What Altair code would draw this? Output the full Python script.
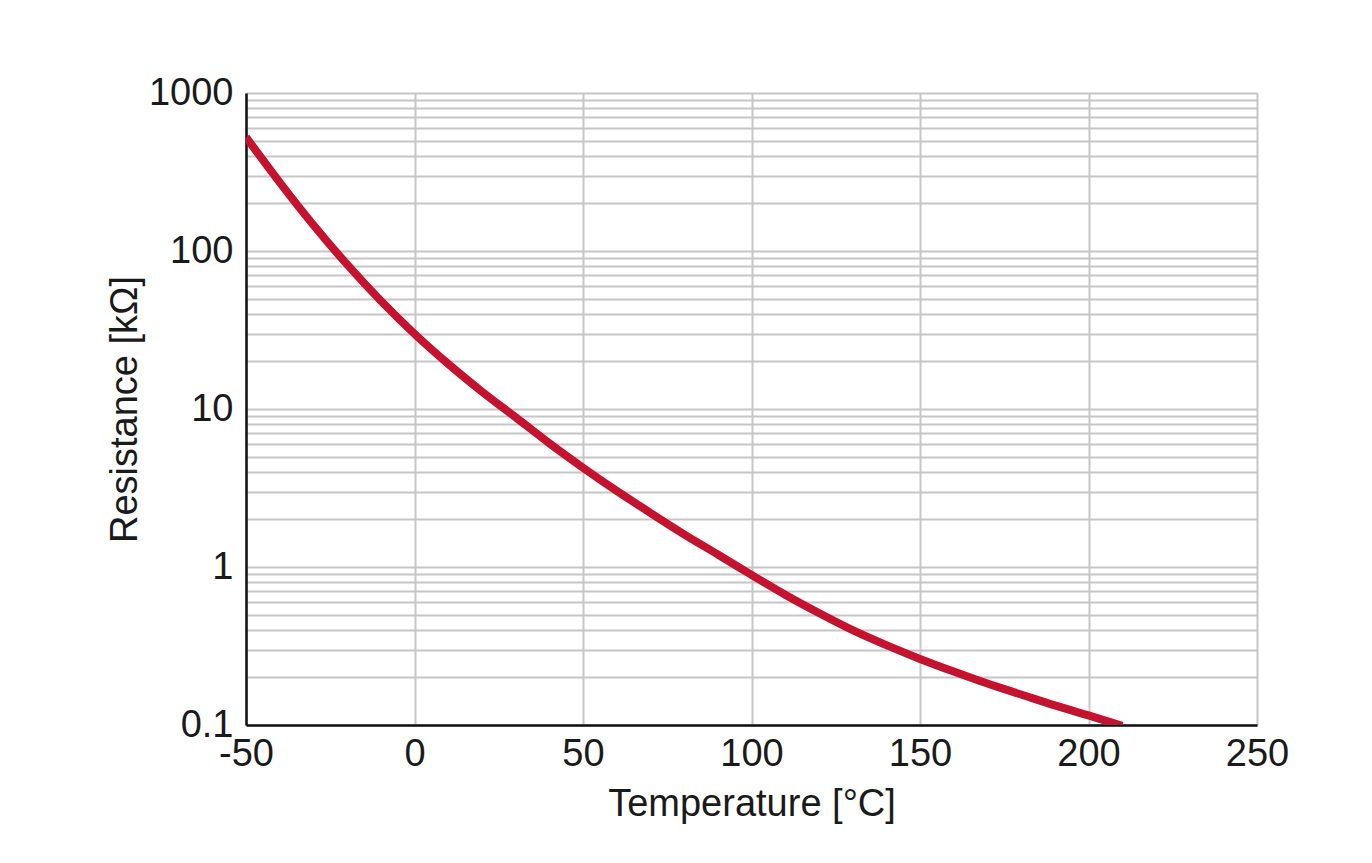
import altair as alt
import pandas as pd

# Data (temperature in °C, resistance in kΩ)
temperature = [-50, -40, -30, -20, -10, 0, 10, 20, 30, 40, 50, 60, 70, 80, 90,
               100, 110, 120, 130, 140, 150, 160, 170, 180, 190, 200, 210]
resistance = [525, 272, 146, 82.2, 48.4, 29.9, 19.3, 12.9, 8.87, 6.07, 4.25, 3.03, 2.20, 1.61, 1.20,
              0.891, 0.668, 0.511, 0.398, 0.320, 0.262, 0.218, 0.183, 0.156, 0.133, 0.115, 0.0986]

x_ticks = [-50, 0, 50, 100, 150, 200, 250]
y_labels = [0.1, 1, 10, 100, 1000]
y_grid = sorted(set([round(m * d, 6) for d in [0.1, 1, 10, 100] for m in range(1, 10)] + [1000]))

df = pd.DataFrame({"T": temperature, "R": resistance})

FONT = "Liberation Sans"
FS = 38
label_test = " || ".join(f"datum.value == {v}" for v in y_labels)

common = dict(
    labelFontSize=FS,
    titleFontSize=FS,
    ticks=False,
    gridColor="#c6c6c6",
    gridWidth=2,
    domainColor="#111",
    domainWidth=2.5,
    labelColor="#1a1a1a",
    titleColor="#1a1a1a",
    titleFontWeight="normal",
    labelFont=FONT,
    titleFont=FONT,
    labelFlush=False,
    labelOverlap=False,
)

chart = (
    alt.Chart(df)
    .mark_line(color="#c4122f", strokeWidth=8, interpolate="monotone", clip=True)
    .encode(
        x=alt.X(
            "T:Q",
            scale=alt.Scale(domain=[-50, 250], nice=False, zero=False),
            axis=alt.Axis(
                values=x_ticks,
                labelExpr="'' + datum.value",
                title="Temperature [°C]",
                labelPadding=10,
                titlePadding=12,
                **common,
            ),
        ),
        y=alt.Y(
            "R:Q",
            scale=alt.Scale(type="log", domain=[0.1, 1000], nice=False),
            axis=alt.Axis(
                values=y_grid,
                labelExpr=f"({label_test}) ? format(datum.value, '~g') : ''",
                title="Resistance [kΩ]",
                labelPadding=13,
                titlePadding=4,
                **common,
            ),
        ),
    )
    .properties(
        width=1011,
        height=632,
        padding={"left": 98, "top": 66, "right": 20, "bottom": 10},
    )
    .configure_view(stroke="#111", strokeWidth=2.5)
    .configure(background="white")
)

chart.save("out.html", embed_options={"renderer": "svg", "actions": False})
